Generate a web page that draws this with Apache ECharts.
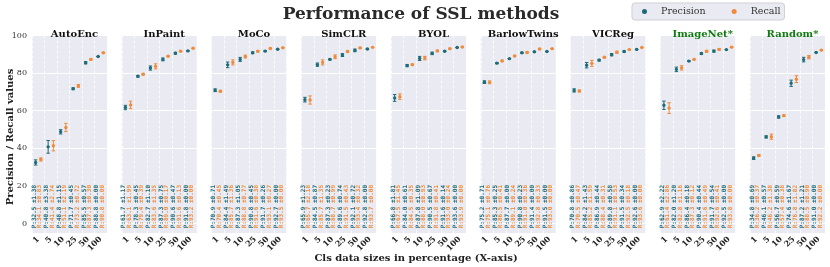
<!DOCTYPE html>
<html><head><meta charset="utf-8">
<script src="https://cdn.jsdelivr.net/npm/echarts@6/dist/echarts.min.js"></script>
<style>html,body{margin:0;padding:0;background:#fff}#c{width:830px;height:267px}</style>
</head><body><div id="c"></div>
<script>
const categories = ['1', '5', '10', '25', '50', '100'];
const methods = ['AutoEnc', 'InPaint', 'MoCo', 'SimCLR', 'BYOL', 'BarlowTwins', 'VICReg', 'ImageNet*', 'Random*'];
const baselineMethods = ['ImageNet*', 'Random*'];

const precisionMean = [
  [32.5, 40.8, 48.8, 71.7, 85.5, 88.8],
  [61.7, 78.3, 82.7, 87.3, 90.6, 91.8],
  [70.9, 84.4, 87.3, 90.8, 91.7, 92.7],
  [65.9, 84.5, 87.3, 89.6, 92.1, 92.8],
  [66.8, 84.0, 87.8, 90.5, 91.6, 93.6],
  [75.2, 85.3, 87.7, 90.8, 91.4, 91.5],
  [70.8, 84.2, 86.9, 89.8, 91.5, 92.6],
  [62.9, 82.0, 86.4, 90.4, 91.7, 92.5],
  [34.8, 46.1, 56.7, 74.6, 87.2, 91.0]
];
const precisionStd = [
  [1.38, 3.38, 1.15, 0.45, 0.57, 0.00],
  [1.17, 0.45, 1.10, 0.75, 0.47, 0.00],
  [0.71, 1.49, 1.05, 0.45, 0.26, 0.00],
  [1.23, 0.87, 0.23, 0.74, 0.72, 0.00],
  [1.81, 0.61, 1.09, 0.67, 0.14, 0.00],
  [0.71, 0.25, 0.00, 0.23, 0.00, 0.00],
  [0.86, 1.43, 0.44, 0.58, 0.34, 0.00],
  [2.22, 1.20, 0.18, 0.44, 0.54, 0.00],
  [0.69, 0.57, 0.59, 1.67, 1.21, 0.00]
];
const recallMean = [
  [34.1, 41.4, 51.1, 73.2, 87.3, 90.8],
  [63.1, 79.4, 83.6, 89.0, 91.6, 93.2],
  [70.4, 85.7, 88.8, 91.6, 93.1, 93.5],
  [65.7, 85.7, 88.7, 91.5, 93.4, 93.7],
  [67.5, 84.5, 88.0, 91.8, 93.0, 93.9],
  [75.1, 86.5, 89.1, 91.0, 92.8, 93.0],
  [70.5, 85.2, 88.4, 91.1, 92.5, 93.6],
  [61.4, 82.8, 87.3, 91.6, 92.6, 93.8],
  [36.2, 46.2, 57.4, 76.8, 88.5, 92.2]
];
const recallStd = [
  [0.83, 2.74, 2.19, 0.72, 0.30, 0.00],
  [1.99, 0.39, 1.35, 0.17, 0.13, 0.00],
  [0.45, 1.36, 0.77, 0.38, 0.27, 0.00],
  [2.18, 1.35, 0.99, 0.43, 0.32, 0.00],
  [1.45, 0.35, 0.93, 0.41, 0.24, 0.00],
  [0.76, 0.41, 0.24, 0.36, 0.33, 0.00],
  [0.47, 1.59, 0.31, 0.53, 0.18, 0.00],
  [2.86, 1.16, 0.12, 0.49, 0.41, 0.00],
  [0.37, 1.38, 0.38, 1.82, 0.90, 0.00]
];

const P_COLOR = '#1c6b78';
const R_COLOR = '#ef8b3c';
const LABEL_Y = -2.5;

const chart = echarts.init(document.getElementById('c'), null, {renderer: 'canvas'});

const grids = [], xAxes = [], yAxes = [], series = [], titles = [];
const LEFT0 = 32, STRIDE = 89.75, W = 75, TOP = 35.5, H = 197.5;

function makeRender(dotOff, textOff, prefix, color) {
  return function (params, api) {
    const cat = api.value(0), mean = api.value(1), std = api.value(2);
    const c = api.coord([cat, mean]);
    const t = api.coord([cat, mean + std]);
    const b = api.coord([cat, mean - std]);
    const l = api.coord([cat, LABEL_Y]);
    const x = c[0] + dotOff;
    const cap = 1.7;
    const ls = {stroke: color, lineWidth: 1};
    const children = [
      {type: 'line', shape: {x1: x, y1: t[1], x2: x, y2: b[1]}, style: ls},
      {type: 'line', shape: {x1: x - cap, y1: t[1], x2: x + cap, y2: t[1]}, style: ls},
      {type: 'line', shape: {x1: x - cap, y1: b[1], x2: x + cap, y2: b[1]}, style: ls},
      {type: 'circle', shape: {cx: x, cy: c[1], r: 1.7}, style: {fill: color}},
      {type: 'text', x: l[0] + textOff, y: l[1], rotation: Math.PI / 2,
        style: {text: prefix + mean.toFixed(1) + ' \u00b1' + std.toFixed(2), x: 0, y: 0,
          align: 'left', verticalAlign: 'middle', font: 'bold 6px "DejaVu Sans Mono"', fill: color}}
    ];
    return {type: 'group', children};
  };
}

methods.forEach((m, i) => {
  const left = LEFT0 + i * STRIDE;
  grids.push({left: left, top: TOP, width: W, height: H, show: true, backgroundColor: '#EAEAF2', borderWidth: 0, containLabel: false});
  xAxes.push({
    type: 'category', gridIndex: i, data: categories, boundaryGap: true,
    axisLine: {show: false}, axisTick: {show: false},
    axisLabel: {interval: 0, rotate: 45, fontSize: 8, fontWeight: 'bold', fontFamily: 'DejaVu Serif', color: '#222', margin: 5},
    splitLine: {show: true, interval: 0, lineStyle: {color: '#fff', type: [3, 2], width: 0.8}}
  });
  yAxes.push({
    type: 'value', gridIndex: i, min: -5, max: 100,
    axisLine: {show: false}, axisTick: {show: false},
    axisLabel: {show: i === 0, showMinLabel: false, fontSize: 8, fontFamily: 'DejaVu Serif', color: '#333', margin: 5},
    splitLine: {show: true, lineStyle: {color: '#fff', width: 1}}
  });
  titles.push({
    text: m, left: left + W / 2, top: 24, textAlign: 'center',
    textStyle: {fontSize: 10, fontWeight: 'bold', fontFamily: 'DejaVu Serif',
      color: baselineMethods.includes(m) ? '#0f7a0f' : '#111'}
  });
  const pData = categories.map((c, k) => [k, precisionMean[i][k], precisionStd[i][k]]);
  const rData = categories.map((c, k) => [k, recallMean[i][k], recallStd[i][k]]);
  series.push({
    name: 'Precision', type: 'custom', xAxisIndex: i, yAxisIndex: i, data: pData,
    itemStyle: {color: P_COLOR}, encode: {x: 0, y: 1},
    renderItem: makeRender(-2.6, -4.2, 'P:', P_COLOR), z: 3
  });
  series.push({
    name: 'Recall', type: 'custom', xAxisIndex: i, yAxisIndex: i, data: rData,
    itemStyle: {color: R_COLOR}, encode: {x: 0, y: 1},
    renderItem: makeRender(2.6, 1.2, 'R:', R_COLOR), z: 3
  });
});

titles.unshift({
  text: 'Performance of SSL methods', left: 416, top: 1, textAlign: 'center',
  textStyle: {fontSize: 17, fontWeight: 'bold', fontFamily: 'DejaVu Serif', color: '#2a2a2a'}
});

const option = {
  animation: false,
  title: titles,
  legend: {
    left: 632, top: 3, orient: 'horizontal',
    data: [{name: 'Precision', icon: 'circle'}, {name: 'Recall', icon: 'circle'}],
    itemWidth: 5, itemHeight: 5, itemGap: 26,
    padding: [3, 4, 3, 10],
    backgroundColor: '#EAEAF2', borderColor: '#cfcfd6', borderWidth: 1, borderRadius: 3,
    textStyle: {fontSize: 9.5, fontFamily: 'DejaVu Serif', color: '#333', padding: [0, 0, 0, 9], lineHeight: 11}
  },
  grid: grids, xAxis: xAxes, yAxis: yAxes, series: series,
  graphic: [
    {type: 'text', x: 10, y: 137, rotation: Math.PI / 2,
      style: {text: 'Precision / Recall values', align: 'center', verticalAlign: 'middle',
        font: 'bold 10px "DejaVu Serif"', fill: '#222'}},
    {type: 'text', x: 416, y: 258,
      style: {text: 'Cls data sizes in percentage (X-axis)', align: 'center', verticalAlign: 'middle',
        font: 'bold 10px "DejaVu Serif"', fill: '#222'}}
  ]
};
chart.setOption(option);
</script></body></html>
